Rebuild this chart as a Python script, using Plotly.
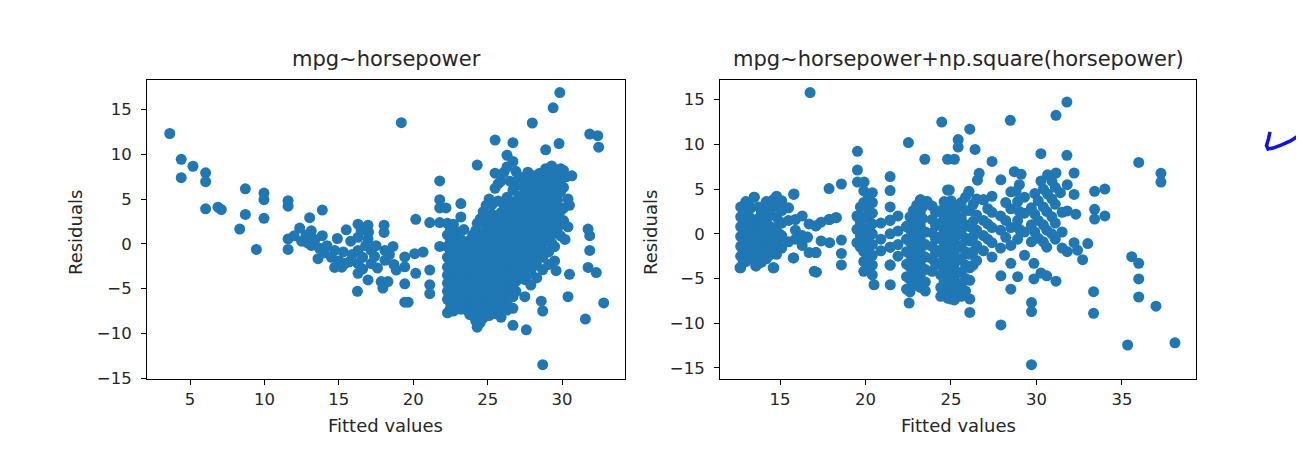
import plotly.graph_objects as go

# residuals vs fitted, linear fit (fitted, residual)
lin_points = [
    (3.64, 12.33), (4.41, 9.44), (4.41, 7.39), (5.2, 8.67), (6.05, 7.94), (6.05, 6.95), (6.05, 3.92),
    (6.88, 4.1), (7.1, 3.83), (8.72, 6.15), (8.72, 3.29), (8.34, 1.65), (9.46, -0.62), (9.97, 5.67),
    (9.97, 4.94), (9.97, 2.85), (11.59, 4.83), (11.59, 4.21), (11.59, 0.55), (11.59, -0.62),
    (12.37, 1.76), (13.04, 2.93), (13.15, 1.46), (13.15, -0.18), (13.89, 3.77), (13.89, 0.92),
    (13.6, -1.65), (14.72, -0.73), (14.72, -2.63), (15.5, 1.57), (16.29, 2.2), (16.96, 2.08),
    (18.04, 2.08), (18.04, 1.28), (16.29, 0.73), (16.96, 0.55), (16.29, -0.73), (16.29, -2.2),
    (16.29, -3.29), (15.4, -2.2), (17.18, -0.73), (17.18, -2.2), (18.1, -0.73), (18.64, -0.29),
    (18.1, -1.83), (16.96, -4.03), (16.25, -5.3), (17.85, -4.21), (17.96, -4.94), (18.3, -4.21),
    (18.86, -2.93), (19.43, -1.46), (19.43, -2.56), (19.43, -4.46), (19.43, -6.51), (19.66, -6.51),
    (19.2, 13.54), (20.17, -3.29), (20.17, 2.74), (20.1, -1.1), (20.66, -0.92), (21.11, -2.93),
    (21.11, -4.57), (21.11, -5.56), (21.11, 2.38), (21.78, 2.38), (21.78, 7.03), (21.78, 4.94),
    (21.78, 4.02), (22.2, 4.02), (21.78, -0.29),
    (12.0, 0.9), (12.5, 0.3), (12.8, 1.0), (13.4, 0.5), (14.2, -0.2), (14.0, -1.0), (14.5, -1.5),
    (15.0, -1.9), (15.2, -2.6), (15.7, -2.0), (15.9, -1.2), (15.8, 0.3), (16.6, -1.5), (16.6, -2.8),
    (16.8, -0.2), (17.4, -1.4), (17.6, -2.7), (17.5, -0.2), (16.5, 1.5), (17.0, 1.3), (18.4, -1.2),
    (18.7, -2.3), (15.3, -0.9), (14.9, 0.6), (13.7, -0.5), (12.9, 0.1),
    (22.3, 2.3), (22.3, 1.0), (22.3, -0.3), (22.3, -1.5), (22.3, -2.6), (22.3, -3.5), (22.3, -4.4),
    (22.3, -5.3), (22.3, -6.2), (22.3, -7.7),
    (22.5, 1.6), (22.5, 0.3), (22.5, -0.9), (22.5, -2.1), (22.5, -3.0), (22.5, -3.9), (22.5, -4.8),
    (22.5, -5.7), (22.5, -6.6), (22.5, -7.2),
    (22.7, 2.2), (22.7, 0.6), (22.7, -0.8), (22.7, -2.0), (22.7, -3.1), (22.7, -4.0), (22.7, -5.0),
    (22.7, -5.9), (22.7, -6.8), (22.7, -7.5),
    (22.9, 1.4), (22.9, -0.1), (22.9, -1.4), (22.9, -2.6), (22.9, -3.6), (22.9, -4.5), (22.9, -5.4),
    (22.9, -6.3),
    (23.2, 4.5), (23.2, 3.0), (23.2, 0.5), (23.2, -1.1), (23.2, -2.4), (23.2, -3.6), (23.2, -4.6),
    (23.2, -5.6), (23.2, -7.3),
    (23.4, 1.6), (23.4, -0.4), (23.4, -1.7), (23.4, -3.0), (23.4, -4.1), (23.4, -5.1), (23.4, -6.2),
    (23.4, -7.0),
    (23.6, -0.3), (23.6, -1.8), (23.6, -3.0), (23.6, -4.2), (23.6, -5.4), (23.6, -6.4), (23.6, -7.4),
    (23.8, 0.4), (23.8, -1.0), (23.8, -2.4), (23.8, -3.6), (23.8, -4.8), (23.8, -5.9), (23.8, -6.9),
    (23.8, -7.9),
    (24.0, 1.0), (24.0, -0.6), (24.0, -1.9), (24.0, -3.2), (24.0, -4.3), (24.0, -5.6), (24.0, -6.8),
    (24.0, -8.0),
    (24.2, 1.5), (24.2, -0.2), (24.2, -1.6), (24.2, -2.9), (24.2, -4.1), (24.2, -5.3), (24.2, -6.5),
    (24.2, -7.6), (24.2, -8.6),
    (24.3, 8.8), (24.3, 2.3), (24.3, 0.4), (24.3, -1.2), (24.3, -2.6), (24.3, -3.8), (24.3, -5.0),
    (24.3, -6.2), (24.3, -7.2), (24.3, -9.3),
    (24.5, 2.8), (24.5, 0.9), (24.5, -0.6), (24.5, -2.0), (24.5, -3.3), (24.5, -4.6), (24.5, -5.8),
    (24.5, -7.0), (24.5, -8.8),
    (24.7, 3.6), (24.7, 2.3), (24.7, 1.2), (24.7, 0.0), (24.7, -1.5), (24.7, -2.9), (24.7, -4.1),
    (24.7, -5.3), (24.7, -6.5), (24.7, -7.6), (24.7, -8.3),
    (24.9, 4.3), (24.9, 2.8), (24.9, 1.0), (24.9, -0.4), (24.9, -1.8), (24.9, -3.2), (24.9, -4.4),
    (24.9, -5.7), (24.9, -6.9), (24.9, -8.0),
    (25.1, 5.0), (25.1, 1.6), (25.1, 0.4), (25.1, -0.8), (25.1, -2.2), (25.1, -3.4), (25.1, -4.6),
    (25.1, -5.8), (25.1, -7.0), (25.1, -8.0),
    (25.3, 4.4), (25.3, 3.3), (25.3, 2.1), (25.3, 0.0), (25.3, -1.4), (25.3, -2.6), (25.3, -3.9),
    (25.3, -5.1), (25.3, -6.3), (25.3, -7.4),
    (25.5, 11.6), (25.5, 7.9), (25.5, 6.2), (25.5, 2.8), (25.5, 1.0), (25.5, -0.4), (25.5, -1.7),
    (25.5, -3.0), (25.5, -4.2), (25.5, -5.5), (25.5, -6.6), (25.5, -7.8),
    (25.7, 6.7), (25.7, 4.8), (25.7, 2.4), (25.7, 1.4), (25.7, 0.2), (25.7, -1.1), (25.7, -2.4),
    (25.7, -3.7), (25.7, -5.0), (25.7, -6.2), (25.7, -7.3),
    (25.9, 7.0), (25.9, 3.5), (25.9, 2.2), (25.9, 0.8), (25.9, -0.5), (25.9, -1.9), (25.9, -3.2),
    (25.9, -4.5), (25.9, -5.7), (25.9, -7.0), (25.9, -8.2),
    (26.1, 8.0), (26.1, 4.3), (26.1, 2.8), (26.1, 1.2), (26.1, -0.2), (26.1, -1.5), (26.1, -2.9),
    (26.1, -4.2), (26.1, -5.4), (26.1, -6.7),
    (26.3, 9.9), (26.3, 8.6), (26.3, 5.2), (26.3, 3.4), (26.3, 1.6), (26.3, 0.0), (26.3, -1.2),
    (26.3, -2.6), (26.3, -3.8), (26.3, -5.1), (26.3, -6.3), (26.3, -7.4),
    (26.5, 7.0), (26.5, 4.8), (26.5, 3.6), (26.5, 2.2), (26.5, 0.6), (26.5, -0.8), (26.5, -2.2),
    (26.5, -3.4), (26.5, -4.7), (26.5, -6.0),
    (26.7, 11.3), (26.7, 9.2), (26.7, 6.0), (26.7, 4.3), (26.7, 2.7), (26.7, 1.1), (26.7, -0.6),
    (26.7, -2.0), (26.7, -3.4), (26.7, -4.6), (26.7, -5.9), (26.7, -7.2), (26.7, -9.1),
    (26.9, 8.1), (26.9, 6.5), (26.9, 4.5), (26.9, 3.1), (26.9, 1.8), (26.9, 0.3), (26.9, -1.2),
    (26.9, -2.7), (26.9, -4.2), (26.9, -5.3),
    (27.1, 7.5), (27.1, 5.3), (27.1, 3.8), (27.1, 2.4), (27.1, 1.0), (27.1, -0.4), (27.1, -1.9),
    (27.1, -3.3),
    (27.3, 6.5), (27.3, 4.9), (27.3, 3.4), (27.3, 2.0), (27.3, 0.6), (27.3, -0.9), (27.3, -2.3),
    (27.5, 7.4), (27.5, 5.8), (27.5, 4.4), (27.5, 2.9), (27.5, 1.6), (27.5, 0.2), (27.5, -1.2),
    (27.5, -2.6), (27.5, -4.0), (27.5, -5.9), (27.6, -9.6),
    (27.7, 8.0), (27.7, 6.5), (27.7, 4.9), (27.7, 3.3), (27.7, 1.9), (27.7, 0.6), (27.7, -0.9),
    (27.7, -2.3), (27.7, -3.5),
    (28.0, 13.5), (27.9, 7.0), (27.9, 5.4), (27.9, 3.7), (27.9, 2.4), (27.9, 1.0), (27.9, -0.5),
    (27.9, -1.8), (27.9, -3.2), (27.9, -4.6),
    (28.1, 7.6), (28.1, 5.9), (28.1, 4.4), (28.1, 2.9), (28.1, 1.4), (28.1, 0.0), (28.1, -1.4),
    (28.3, 6.3), (28.3, 4.9), (28.3, 3.2), (28.3, 1.8), (28.3, 0.4), (28.3, -1.1), (28.3, -2.4),
    (28.3, -3.8),
    (28.5, 7.9), (28.5, 6.7), (28.5, 5.2), (28.5, 3.6), (28.5, 2.2), (28.5, 0.8), (28.5, -0.7),
    (28.9, 10.5), (28.7, 7.1), (28.7, 5.8), (28.7, 4.3), (28.7, 2.8), (28.7, 1.4), (28.7, 0.0),
    (28.7, -1.5), (28.7, -2.9), (28.6, -6.4), (28.7, -7.5), (28.7, -13.5),
    (28.9, 8.4), (28.9, 6.8), (28.9, 5.4), (28.9, 3.9), (28.9, 2.4), (28.9, 1.0),
    (29.1, 7.7), (29.1, 6.4), (29.1, 5.0), (29.1, 3.6), (29.1, 2.1), (29.1, 0.6), (29.1, -0.9),
    (29.1, -2.3),
    (29.3, 8.7), (29.3, 7.3), (29.3, 5.9), (29.3, 4.4), (29.3, 3.0), (29.3, 1.5), (29.3, 0.1),
    (29.4, 15.2), (29.8, 11.2), (29.5, 8.3), (29.5, 6.9), (29.5, 5.5), (29.5, 4.1), (29.5, 2.6),
    (29.5, 1.2), (29.5, -0.3), (29.5, -1.9), (29.6, -3.0),
    (29.7, 7.6), (29.7, 6.3), (29.7, 4.9), (29.7, 3.4), (29.7, 1.8),
    (29.85, 16.9), (29.9, 8.4), (29.9, 7.0), (29.9, 5.8), (29.9, 3.7), (29.9, 2.3), (29.9, 0.9),
    (30.1, 8.2), (30.1, 6.3), (30.1, 4.0), (30.1, 2.6),
    (30.3, 7.5), (30.4, 5.0), (30.5, 4.3), (30.4, 1.9), (30.2, 0.5),
    (30.66, 7.6), (30.5, -3.4), (30.4, -5.9),
    (31.57, -8.4), (31.86, 12.26), (31.75, 1.65), (31.86, 0.92), (31.86, -0.73), (31.75, -2.63),
    (32.4, 12.08), (32.3, -3.2), (32.46, 10.8), (32.8, -6.6),
]

# residuals vs fitted, quadratic fit (fitted, residual)
quad_points = [
    (16.76, 15.8), (31.78, 14.74), (31.14, 13.25), (24.46, 12.5), (28.47, 12.7), (26.1, 11.7),
    (25.42, 10.54), (25.42, 9.7), (22.51, 10.2), (19.53, 9.22), (23.47, 8.34), (24.8, 8.34),
    (25.2, 8.34), (26.41, 9.44), (27.4, 8.1), (30.26, 8.96), (31.78, 8.78), (35.98, 7.98),
    (37.28, 6.77), (37.28, 5.79), (27.92, 6.04), (26.65, 6.77), (28.7, 6.95), (29.1, 6.66),
    (19.53, 7.13), (19.53, 5.79), (19.92, 5.79), (21.44, 6.4), (21.44, 4.83), (18.59, 5.57),
    (17.87, 5.06),
    (35.33, -12.44), (38.1, -12.2), (33.34, -6.48), (33.34, -8.9), (29.71, -14.64), (29.71, -7.7),
    (29.71, -8.7), (27.92, -10.2), (28.5, -6.2), (27.92, -4.7), (28.9, -4.8), (29.85, -3.3),
    (29.85, -5.05), (30.26, -4.4), (31.14, -5.3), (30.6, -4.7), (26.1, -8.8), (26.1, -7.3),
    (22.55, -7.75), (21.45, -5.7), (20.5, -5.7), (17.13, -4.3), (17.0, -4.2),
    (35.57, -2.56), (35.98, -3.3), (35.98, -5.05), (35.98, -7.07), (36.99, -8.1),
    (33.0, -1.1), (32.7, -2.9), (32.4, -1.83), (31.8, -2.0),
    (33.4, 4.75), (34.0, 5.0), (33.4, 2.74), (34.0, 2.0), (33.4, 1.65), (32.3, 2.2), (31.8, 2.56),
    (12.7, 3.0), (12.7, 1.9), (12.7, 0.8), (12.7, -0.3), (12.7, -1.4), (12.7, -2.5), (12.7, -3.8),
    (12.85, 2.4), (12.85, 1.3), (12.85, 0.2), (12.85, -0.9), (12.85, -2.0), (12.85, -3.2),
    (13.0, 3.6), (13.0, 2.4), (13.0, 1.3), (13.0, 0.2), (13.0, -0.9), (13.0, -2.0), (13.0, -3.1),
    (13.15, 3.2), (13.15, 2.0), (13.15, 0.9), (13.15, -0.2), (13.15, -1.3), (13.15, -2.4),
    (13.3, 2.9), (13.3, 1.7), (13.3, 0.6), (13.3, -0.5), (13.3, -1.6), (13.3, -2.7),
    (13.5, 4.1), (13.6, 0.9), (13.6, -0.2), (13.6, -1.3), (13.6, -2.4), (13.6, -3.6),
    (13.75, 3.0), (13.75, 1.7), (13.75, 0.5), (13.75, -0.6), (13.75, -1.8), (13.75, -2.8),
    (13.9, 2.2), (13.9, 1.1), (13.9, 0.0), (13.9, -1.1), (13.9, -2.2), (13.9, -3.2),
    (14.05, 2.8), (14.05, 1.6), (14.05, 0.4), (14.05, -0.7), (14.05, -1.8),
    (14.2, 3.6), (14.2, 2.6), (14.2, 1.4), (14.2, -0.5), (14.2, -1.7), (14.2, -2.8),
    (14.35, 3.2), (14.35, 2.0), (14.35, 0.9), (14.35, -0.2), (14.35, -1.3), (14.35, -2.4),
    (14.6, 3.8), (14.5, 2.9), (14.5, 0.7), (14.5, -0.8), (14.5, -1.9), (14.6, -3.8),
    (14.8, 4.2), (14.8, 1.9), (14.8, 0.3), (14.8, -1.2), (14.8, -2.3),
    (14.95, 3.0), (14.95, 1.4), (14.95, 0.0), (14.95, -0.6),
    (15.1, 3.7), (15.1, 2.6), (15.1, 1.2), (15.1, -0.2), (15.1, -1.6),
    (15.8, 4.4), (15.5, 2.9), (15.5, 1.5), (15.5, -0.9), (15.8, -2.7),
    (15.9, 1.6), (15.9, 0.4), (15.9, -0.6), (16.3, 2.0), (16.3, -0.2), (16.3, -1.3),
    (16.7, 1.1), (16.6, -0.4), (16.7, -2.1), (17.1, 0.9), (17.1, -2.1), (17.4, 1.3), (17.4, -0.8),
    (17.9, 1.6), (17.9, -1.0), (18.3, 1.8), (18.59, -0.7), (18.59, -2.2), (18.59, -3.48),
    (19.5, 2.0), (19.5, 0.5), (19.5, -1.0),
    (19.7, 3.0), (19.7, 1.2), (19.7, -0.2), (19.7, -1.5),
    (19.9, 4.8), (19.9, 3.5), (19.9, 1.9), (19.9, 0.5), (19.9, -0.8), (19.9, -2.0), (19.9, -3.1),
    (19.9, -4.2),
    (20.15, 4.0), (20.15, 2.9), (20.15, 1.7), (20.15, 0.6), (20.15, -0.6), (20.15, -1.8),
    (20.15, -3.0), (20.15, -4.1),
    (20.4, 4.6), (20.4, 3.5), (20.4, 2.3), (20.4, 1.1), (20.4, 0.0), (20.4, -1.2), (20.4, -2.4),
    (20.4, -3.5), (20.4, -4.6),
    (20.9, 1.2), (20.9, -0.6), (20.9, -1.9),
    (21.44, 3.0), (21.44, 1.5), (21.44, 0.0), (21.44, -1.5), (21.44, -3.5),
    (21.9, 2.0), (21.9, 0.3), (21.9, -1.2), (21.9, -2.5),
    (22.4, 0.8), (22.4, -0.6), (22.4, -2.0), (22.4, -3.4), (22.4, -4.8), (22.4, -6.2),
    (22.6, 1.9), (22.6, 0.5), (22.6, -0.9), (22.6, -2.3), (22.6, -3.7), (22.6, -5.1), (22.6, -6.5),
    (22.8, 2.6), (22.8, 1.2), (22.8, -0.3), (22.8, -1.6), (22.8, -3.0), (22.8, -4.4), (22.8, -5.8),
    (23.0, 3.2), (23.0, 1.8), (23.0, 0.4), (23.0, -1.0), (23.0, -2.4), (23.0, -3.8), (23.0, -5.2),
    (23.2, 3.8), (23.2, 2.4), (23.2, 1.0), (23.2, -0.4), (23.2, -1.8), (23.2, -3.2), (23.2, -4.6),
    (23.2, -6.0),
    (23.35, 3.0), (23.35, 1.7), (23.35, 0.3), (23.35, -1.1), (23.35, -2.5), (23.35, -3.9),
    (23.35, -5.3),
    (23.6, 3.6), (23.5, 0.2), (23.5, -1.2), (23.5, -2.6), (23.5, -4.0), (23.5, -5.4), (23.5, -6.4),
    (23.9, 3.1), (23.9, 1.6), (23.9, 0.1), (23.9, -1.4), (23.9, -2.8), (23.9, -4.2),
    (24.1, 2.4), (24.1, 0.9), (24.1, -0.6), (24.1, -2.1), (24.1, -3.5),
    (24.4, 2.6), (24.4, 1.2), (24.4, -0.3), (24.4, -1.8), (24.4, -3.2), (24.4, -4.6), (24.4, -6.0),
    (24.4, -7.0),
    (24.6, 3.6), (24.6, 1.9), (24.6, 0.4), (24.6, -1.1), (24.6, -2.5), (24.6, -3.9), (24.6, -5.3),
    (24.6, -6.6),
    (24.8, 4.9), (24.8, 3.0), (24.8, 1.5), (24.8, 0.0), (24.8, -1.6), (24.8, -3.0), (24.8, -4.4),
    (24.8, -5.8), (24.8, -7.2),
    (25.0, 3.7), (25.0, 2.2), (25.0, 0.7), (25.0, -0.8), (25.0, -2.3), (25.0, -3.7), (25.0, -5.1),
    (25.0, -6.5), (25.0, -7.3),
    (25.2, 2.4), (25.2, 0.9), (25.2, -0.6), (25.2, -2.0), (25.2, -3.4), (25.2, -4.8), (25.2, -6.2),
    (25.2, -7.4),
    (25.4, 3.0), (25.4, 1.5), (25.4, 0.0), (25.4, -1.5), (25.4, -2.9), (25.4, -4.3), (25.4, -5.6),
    (25.4, -6.9),
    (25.6, 3.5), (25.6, 1.8), (25.6, 0.3), (25.6, -1.3), (25.6, -2.8), (25.6, -4.3), (25.6, -5.8),
    (25.6, -7.0),
    (25.85, 4.1), (25.85, 2.6), (25.85, 1.0), (25.85, -0.5), (25.85, -2.0), (25.85, -3.5),
    (25.85, -5.0), (25.85, -6.4),
    (26.05, 4.7), (26.1, 2.6), (26.1, 0.8), (26.1, -0.8), (26.1, -2.3), (26.1, -3.8), (26.1, -5.2),
    (26.3, 3.3), (26.3, 1.4), (26.3, -0.3), (26.3, -2.0), (26.3, -3.5),
    (26.5, 3.9), (26.5, 2.1), (26.5, 0.4), (26.5, -1.3), (26.5, -3.0),
    (26.9, 3.8), (26.9, 1.5), (26.9, -0.2), (26.9, -1.9),
    (27.15, 2.8), (27.15, 1.1), (27.15, -0.6),
    (27.4, 4.2), (27.4, 2.4), (27.4, 0.7), (27.4, -1.0), (27.4, -2.6),
    (27.9, 2.0), (27.9, 0.4), (27.9, -1.6),
    (28.2, 3.5), (28.2, 1.5), (28.2, -0.4),
    (28.5, 4.7), (28.5, 2.8), (28.5, 0.7), (28.5, -1.3), (28.5, -3.3),
    (28.8, 4.75), (28.9, 3.6), (28.9, 1.5), (28.9, -0.6),
    (29.0, 5.5), (29.0, 2.5), (29.0, 0.5),
    (29.3, 4.1), (29.3, 2.3), (29.3, 0.2), (29.3, -2.4),
    (29.7, 2.9), (29.7, 1.0), (29.7, -0.9),
    (29.9, 4.5), (29.9, 2.2), (29.9, 0.2),
    (30.26, 5.9), (30.1, 3.7), (30.1, 1.5), (30.1, -0.5),
    (30.4, 5.0), (30.4, 3.0), (30.4, 1.0), (30.4, -0.9),
    (30.65, 6.6), (30.65, 4.45), (30.6, 2.5), (30.6, 0.4), (30.6, -1.5),
    (30.9, 5.9), (30.9, 3.9), (30.9, 1.9), (30.9, 0.0),
    (31.14, 6.8), (31.1, 5.2), (31.1, 3.3), (31.1, 1.2), (31.1, -0.6),
    (31.4, 4.6), (31.5, 2.4), (31.5, 0.2), (31.5, -1.6),
    (31.8, 5.5), (32.2, 6.8), (32.2, 4.4), (32.2, -1.0),
    (13.48, 4.1), (15.82, 4.46), (24.9, 4.9), (26.05, 4.75), (26.55, 6.0), (23.23, 3.8),
    (23.6, 3.6), (26.9, 3.8), (17.87, 1.6), (18.26, 1.8), (17.1, 0.88), (16.6, -0.37), (21.44, 1.53),
    (21.44, -1.5), (21.44, -3.5), (22.4, 0.84), (19.53, 1.9), (15.77, -2.7), (17.1, -2.1),
    (14.64, -3.8), (13.58, -3.6), (12.66, -3.8),
]

lin_fitted = [p[0] for p in lin_points]
lin_resid = [p[1] for p in lin_points]
quad_fitted = [p[0] for p in quad_points]
quad_resid = [p[1] for p in quad_points]

lin_xticks = [5, 10, 15, 20, 25, 30]
quad_xticks = [15, 20, 25, 30, 35]
yticks = [-15, -10, -5, 0, 5, 10, 15]

W, H = 1304, 465
blue = '#1f77b4'
txt = '#262626'

fig = go.Figure()
fig.add_trace(go.Scatter(x=lin_fitted, y=lin_resid, mode='markers', xaxis='x', yaxis='y',
                         marker=dict(color=blue, size=11, line=dict(width=0))))
fig.add_trace(go.Scatter(x=quad_fitted, y=quad_resid, mode='markers', xaxis='x2', yaxis='y2',
                         marker=dict(color=blue, size=11, line=dict(width=0))))

ax = dict(showline=True, linecolor='#000', linewidth=1, mirror=True, ticks='outside', ticklen=5,
          tickwidth=1, tickcolor='#000', showgrid=False, zeroline=False,
          tickfont=dict(family='DejaVu Sans', size=16.5, color=txt))
ydom = [87 / H, 391.7 / H]

fig.update_layout(
    width=W, height=H, margin=dict(l=0, r=0, t=0, b=0),
    plot_bgcolor='white', paper_bgcolor='white', showlegend=False,
    font=dict(family='DejaVu Sans', color=txt),
    xaxis=dict(ax, domain=[139 / W, 617 / W], range=[2.11, 34.23], tickvals=lin_xticks, anchor='y'),
    yaxis=dict(ax, domain=ydom, range=[-15.15, 18.3], tickvals=yticks, anchor='x', ticklabelstandoff=6),
    xaxis2=dict(ax, domain=[712 / W, 1188 / W], range=[11.49, 39.33], tickvals=quad_xticks, anchor='y2'),
    yaxis2=dict(ax, domain=ydom, range=[-16.3, 17.2], tickvals=yticks, anchor='x2', ticklabelstandoff=6),
)

def label(text, x, y, size, angle=0):
    fig.add_annotation(text=text, x=x / W, y=1 - y / H, xref='paper', yref='paper',
                       xanchor='center', yanchor='middle',
                       showarrow=False, textangle=angle, font=dict(size=size, color=txt))

label('mpg~horsepower', 378, 52, 21)
label('mpg~horsepower+np.square(horsepower)', 950, 52, 21)
label('Fitted values', 377, 425, 18)
label('Fitted values', 950, 425, 18)
label('Residuals', 67, 229, 18, -90)
label('Residuals', 642, 229, 18, -90)

# hand-drawn tick mark on the right edge
stroke = [(1262, 126), (1260.5, 133), (1258.5, 140), (1260, 143.5), (1265, 142.5), (1273, 139.5),
          (1282, 135.5), (1292, 129), (1304, 121.5)]
path = 'M ' + ' L '.join('{:.5f} {:.5f}'.format(px / W, 1 - py / H) for px, py in stroke)
fig.add_shape(type='path', path=path, xref='paper', yref='paper',
              line=dict(color='#1010f0', width=3.5))

fig.write_html("out.html")
